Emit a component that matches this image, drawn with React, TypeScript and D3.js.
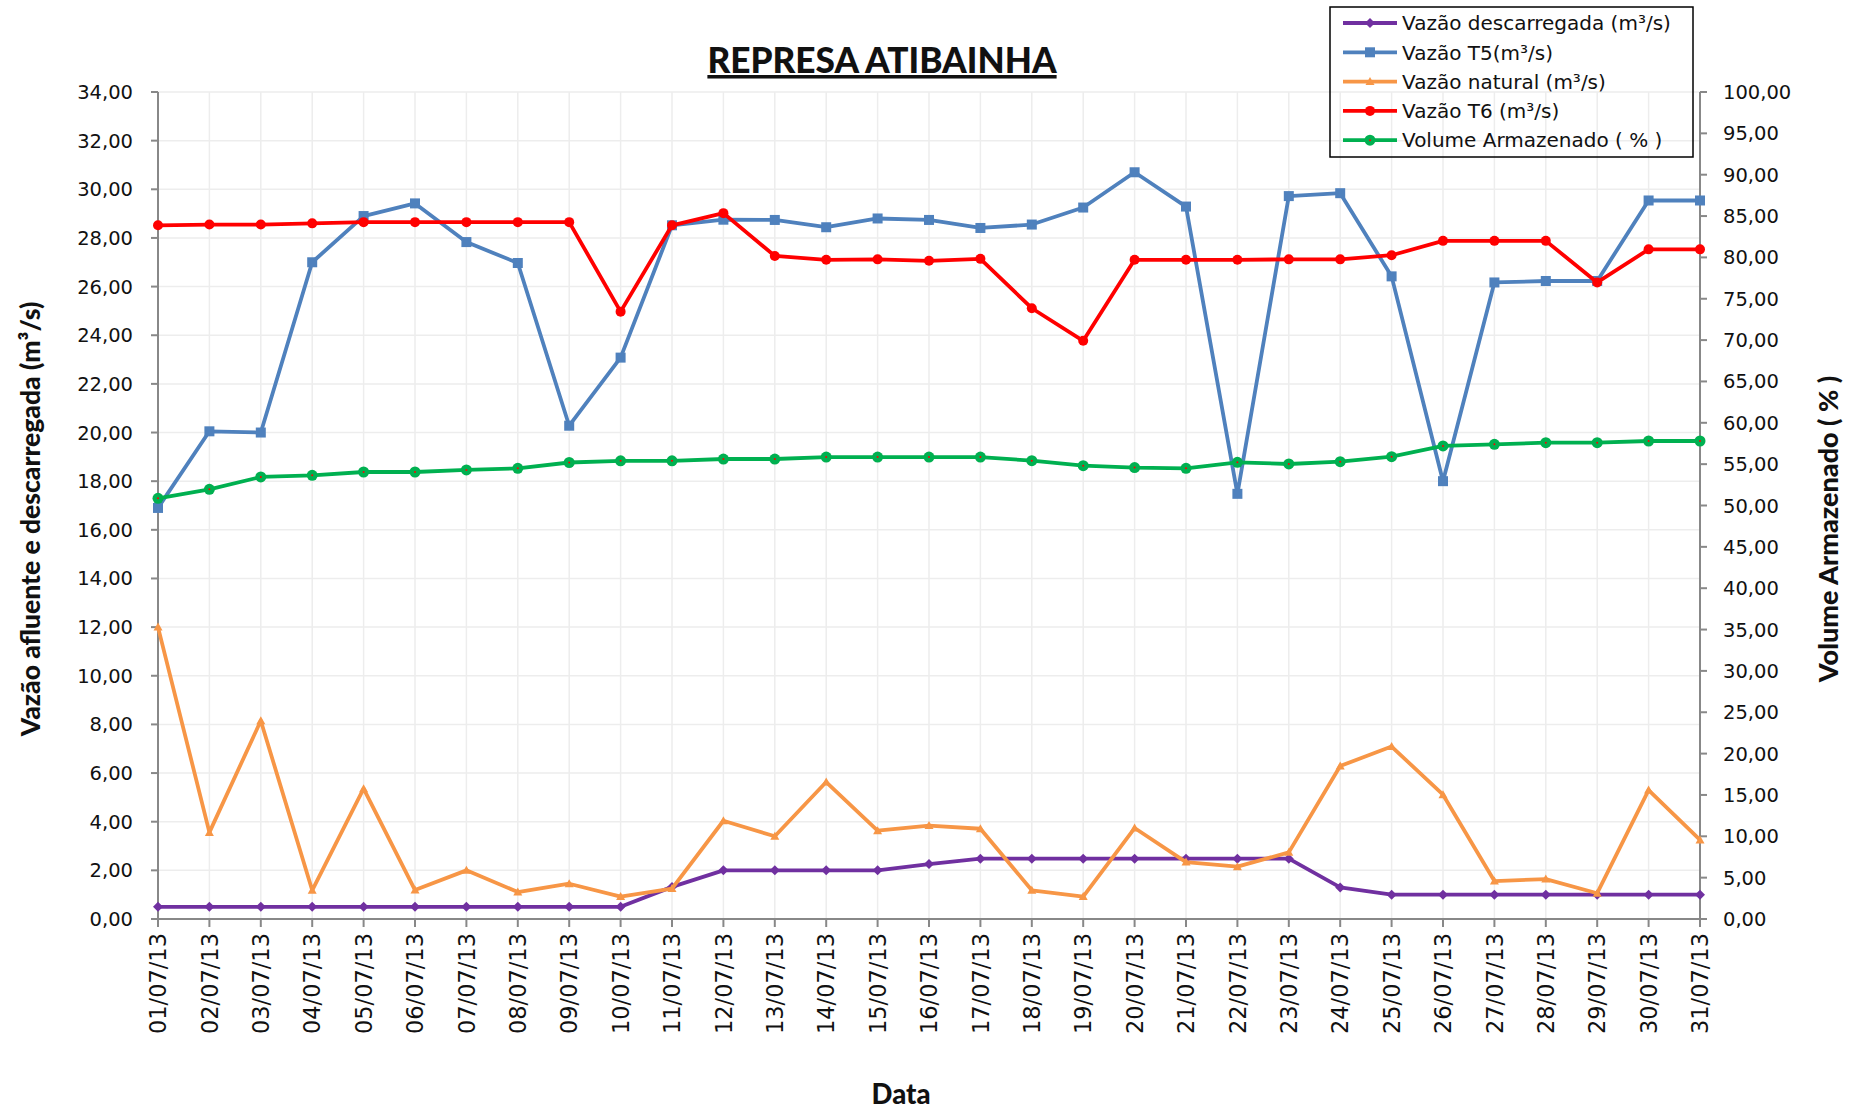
import React from "react";
import * as d3 from "d3";

const dates = Array.from({ length: 31 }, (_, i) => `${String(i + 1).padStart(2, "0")}/07/13`);

const descarregada = [0.5, 0.5, 0.5, 0.5, 0.5, 0.5, 0.5, 0.5, 0.5, 0.5, 1.32, 2.0, 2.0, 2.0, 2.0, 2.26, 2.48, 2.48, 2.48, 2.48, 2.48, 2.48, 2.48, 1.3, 1.0, 1.0, 1.0, 1.0, 1.0, 1.0, 1.0];
const vazaoT5 = [16.9, 20.05, 20.0, 27.0, 28.9, 29.42, 27.83, 26.97, 20.28, 23.08, 28.52, 28.75, 28.74, 28.44, 28.8, 28.74, 28.41, 28.55, 29.25, 30.7, 29.29, 17.48, 29.72, 29.84, 26.42, 18.0, 26.17, 26.23, 26.23, 29.54, 29.54];
const natural = [12.0, 3.56, 8.15, 1.18, 5.36, 1.19, 2.0, 1.11, 1.45, 0.92, 1.25, 4.04, 3.4, 5.63, 3.63, 3.84, 3.71, 1.18, 0.92, 3.74, 2.34, 2.15, 2.74, 6.29, 7.09, 5.11, 1.56, 1.64, 1.06, 5.3, 3.25];
const vazaoT6 = [28.52, 28.55, 28.55, 28.6, 28.65, 28.65, 28.65, 28.65, 28.65, 24.97, 28.52, 29.02, 27.26, 27.1, 27.12, 27.06, 27.14, 25.11, 23.77, 27.1, 27.1, 27.1, 27.12, 27.12, 27.29, 27.88, 27.88, 27.88, 26.17, 27.53, 27.53];
const volume = [50.87, 51.96, 53.45, 53.65, 54.05, 54.05, 54.3, 54.5, 55.2, 55.4, 55.4, 55.62, 55.62, 55.86, 55.86, 55.86, 55.86, 55.42, 54.82, 54.58, 54.5, 55.22, 55.02, 55.3, 55.9, 57.2, 57.4, 57.6, 57.6, 57.8, 57.8];

const leftTicks = d3.range(0, 34.01, 2);
const rightTicks = d3.range(0, 100.01, 5);

const seriesNames = [
  "Vazão descarregada (m³/s)",
  "Vazão T5(m³/s)",
  "Vazão natural (m³/s)",
  "Vazão T6 (m³/s)",
  "Volume Armazenado ( % )",
];

const W = 1849, H = 1110;
const M = { left: 158, right: 1700, top: 92, bottom: 919 };

const fmt = (v: number) => v.toFixed(2).replace(".", ",");

type Marker = "diamond" | "square" | "triangle" | "circle" | "circleDot";

function MarkerShape({ type, x, y, color }: { type: Marker; x: number; y: number; color: string }) {
  if (type === "square") return <rect x={x - 5} y={y - 5} width={10} height={10} fill={color} />;
  if (type === "diamond") return <path d={`M${x},${y - 5}L${x + 5},${y}L${x},${y + 5}L${x - 5},${y}Z`} fill={color} />;
  if (type === "triangle") return <path d={`M${x},${y - 4.5}L${x + 4.5},${y + 3.5}L${x - 4.5},${y + 3.5}Z`} fill={color} />;
  if (type === "circleDot")
    return (
      <g>
        <circle cx={x} cy={y} r={5.5} fill={color} />
        <circle cx={x} cy={y} r={1} fill="#ff0000" />
      </g>
    );
  return <circle cx={x} cy={y} r={5} fill={color} />;
}

export default function App() {
  const x = d3.scalePoint<string>().domain(dates).range([M.left, M.right]);
  const yL = d3.scaleLinear().domain([0, 34]).range([M.bottom, M.top]);
  const yR = d3.scaleLinear().domain([0, 100]).range([M.bottom, M.top]);

  const series = [
    { name: seriesNames[0], values: descarregada, color: "#7030A0", marker: "diamond" as Marker, scale: yL },
    { name: seriesNames[1], values: vazaoT5, color: "#4F81BD", marker: "square" as Marker, scale: yL },
    { name: seriesNames[2], values: natural, color: "#F79646", marker: "triangle" as Marker, scale: yL },
    { name: seriesNames[3], values: vazaoT6, color: "#FF0000", marker: "circle" as Marker, scale: yL },
    { name: seriesNames[4], values: volume, color: "#00B050", marker: "circleDot" as Marker, scale: yR },
  ];

  const font = "'DejaVu Sans', sans-serif";
  const boldFont = "Lato, sans-serif";

  return (
    <svg width={W} height={H} style={{ position: "absolute", left: 0, top: 0, background: "#fff" }}>
      <rect width={W} height={H} fill="#fff" />
      {/* grid */}
      {leftTicks.map((t) => (
        <line key={"h" + t} x1={M.left} x2={M.right} y1={yL(t)} y2={yL(t)} stroke="#EDEDED" strokeWidth={1.5} />
      ))}
      {dates.map((d) => (
        <line key={"v" + d} x1={x(d)} x2={x(d)} y1={M.top} y2={M.bottom} stroke="#EDEDED" strokeWidth={1.5} />
      ))}
      {/* axes */}
      <line x1={M.left} x2={M.left} y1={M.top} y2={M.bottom} stroke="#888" strokeWidth={2} />
      <line x1={M.right} x2={M.right} y1={M.top} y2={M.bottom} stroke="#888" strokeWidth={2} />
      <line x1={M.left} x2={M.right} y1={M.bottom} y2={M.bottom} stroke="#888" strokeWidth={2} />
      {leftTicks.map((t) => (
        <g key={"lt" + t}>
          <line x1={M.left - 7} x2={M.left} y1={yL(t)} y2={yL(t)} stroke="#888" strokeWidth={2} />
          <text x={133} y={yL(t)} dy="0.36em" textAnchor="end" fontFamily={font} fontSize={19.5} fill="#111">
            {fmt(t)}
          </text>
        </g>
      ))}
      {rightTicks.map((t) => (
        <g key={"rt" + t}>
          <line x1={M.right} x2={M.right + 7} y1={yR(t)} y2={yR(t)} stroke="#888" strokeWidth={2} />
          <text x={1723} y={yR(t)} dy="0.36em" textAnchor="start" fontFamily={font} fontSize={19.5} fill="#111">
            {fmt(t)}
          </text>
        </g>
      ))}
      {dates.map((d) => (
        <g key={"xt" + d}>
          <line x1={x(d)} x2={x(d)} y1={M.bottom} y2={M.bottom + 8} stroke="#888" strokeWidth={2} />
          <text
            transform={`translate(${x(d)},${933}) rotate(-90)`}
            dy="0.36em"
            textAnchor="end"
            fontFamily={font}
            fontSize={22.5}
            fill="#111"
          >
            {d}
          </text>
        </g>
      ))}
      {/* series */}
      {series.map((s) => {
        const line = d3
          .line<number>()
          .x((_, i) => x(dates[i]) as number)
          .y((v) => s.scale(v));
        return (
          <g key={s.name}>
            <path d={line(s.values) || ""} fill="none" stroke={s.color} strokeWidth={3.8} strokeLinejoin="round" />
            {s.values.map((v, i) => (
              <MarkerShape key={i} type={s.marker} x={x(dates[i]) as number} y={s.scale(v)} color={s.color} />
            ))}
          </g>
        );
      })}
      {/* titles */}
      <text x={882} y={73} textAnchor="middle" fontFamily={boldFont} fontWeight="900" fontSize={35.2} fill="#111" textDecoration="underline">
        REPRESA ATIBAINHA
      </text>
      <text transform={`translate(30,519) rotate(-90)`} dy="0.36em" textAnchor="middle" fontFamily={boldFont} fontWeight="900" fontSize={26.5} fill="#111">
        Vazão afluente e descarregada (m³/s)
      </text>
      <text transform={`translate(1828,529) rotate(-90)`} dy="0.36em" textAnchor="middle" fontFamily={boldFont} fontWeight="900" fontSize={27} fill="#111">
        Volume Armazenado ( % )
      </text>
      <text x={901} y={1094} dy="0.36em" textAnchor="middle" fontFamily={boldFont} fontWeight="900" fontSize={27.5} fill="#111">
        Data
      </text>
      {/* legend */}
      <rect x={1330} y={7} width={363} height={150} fill="none" stroke="#000" strokeWidth={1.5} />
      {series.map((s, i) => {
        const ly = 23 + i * 29.3;
        return (
          <g key={"lg" + s.name}>
            <line x1={1343} x2={1397} y1={ly} y2={ly} stroke={s.color} strokeWidth={3.8} />
            <MarkerShape type={s.marker} x={1370} y={ly} color={s.color} />
            <text x={1402} y={ly} dy="0.36em" fontFamily={font} fontSize={20} fill="#111">
              {s.name}
            </text>
          </g>
        );
      })}
    </svg>
  );
}
